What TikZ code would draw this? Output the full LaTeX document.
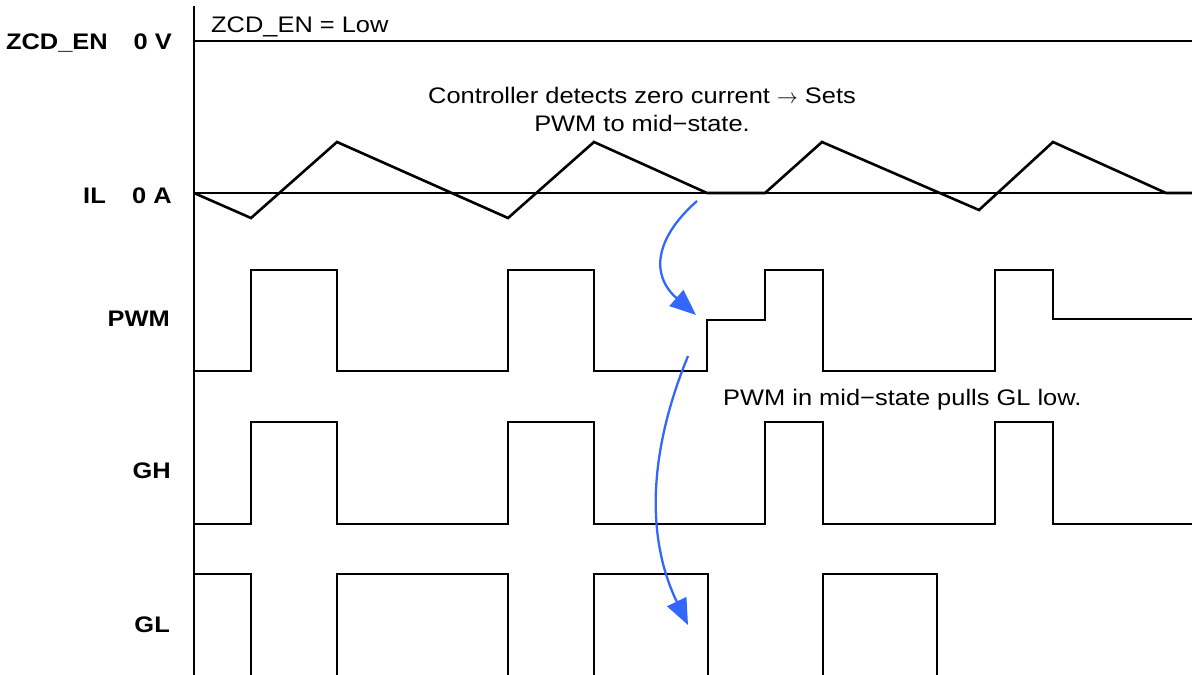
\documentclass[tikz,border=0pt]{standalone}
\usepackage{fontspec}
\setmainfont[FakeStretch=1.13]{Liberation Sans}
\usetikzlibrary{arrows.meta}
\definecolor{annblue}{HTML}{3366FF}
\begin{document}
\begin{tikzpicture}[x=1pt,y=-1pt,
  wave/.style={line width=2.6pt, line join=miter},
  axisline/.style={line width=2.4pt},
  zeroline/.style={line width=2.2pt},
  lbl/.style={font=\fontsize{22.5}{26}\selectfont\bfseries, inner sep=0pt, anchor=base east},
  note/.style={font=\fontsize{22.5}{28}\selectfont, inner sep=0pt},
  ann/.style={annblue, line width=2.3pt, -{Triangle[length=26pt,width=21pt]}}]
\useasboundingbox (0,0) rectangle (1192,675);
% axis
\coordinate (axtop) at (194,6);
\coordinate (axbot) at (194,675);
\draw[axisline] (axtop) -- (axbot);
% ZCD_EN level
\coordinate (zcdA) at (194,41);
\coordinate (zcdB) at (1192,41);
\draw[zeroline] (zcdA) -- (zcdB);
% IL zero line
\coordinate (ilA) at (194,193);
\coordinate (ilB) at (1192,193);
\draw[zeroline] (ilA) -- (ilB);
% IL waveform
\draw[wave] (194,193) -- (251,218) -- (337,142) -- (508,218) -- (594,142) -- (707,193) -- (765,193) -- (822,142) -- (979,210) -- (1053,142) -- (1166,193) -- (1192,193);
% PWM
\draw[wave] (194,371) -- (251,371) -- (251,270) -- (337,270) -- (337,371) -- (508,371) -- (508,270) -- (594,270) -- (594,371) -- (707,371) -- (707,320) -- (765,320) -- (765,270) -- (823,270) -- (823,371) -- (995,371) -- (995,270) -- (1053,270) -- (1053,319) -- (1192,319);
% GH
\draw[wave] (194,524) -- (251,524) -- (251,422) -- (337,422) -- (337,524) -- (508,524) -- (508,422) -- (594,422) -- (594,524) -- (765,524) -- (765,422) -- (823,422) -- (823,524) -- (995,524) -- (995,422) -- (1053,422) -- (1053,524) -- (1192,524);
% GL
\draw[wave] (194,574) -- (251,574) -- (251,676);
\draw[wave] (337,676) -- (337,574) -- (508,574) -- (508,676);
\draw[wave] (594,676) -- (594,574) -- (708,574) -- (708,676);
\draw[wave] (823,676) -- (823,574) -- (937,574) -- (937,676);
% labels
\node[lbl] (zcd) at (108,49) {ZCD\_EN};
\node[lbl] (zcdv) at (172,49) {0 V};
\node[lbl] (il) at (106,203) {IL};
\node[lbl] (ila) at (172,203) {0 A};
\node[lbl] (pwm) at (170,326) {PWM};
\node[lbl] (gh) at (171,478) {GH};
\node[lbl] (gl) at (170,632) {GL};
% notes
\node[note, anchor=base west] (zcdnote) at (211,32) {ZCD\_EN = Low};
\node[note, anchor=base] (ctl1) at (642,103) {Controller detects zero current $\rightarrow$ Sets};
\node[note, anchor=base] (ctl2) at (642,131) {PWM to mid−state.};
\node[note, anchor=base west] (midnote) at (723,405) {PWM in mid−state pulls GL low.};
% annotation arrows
\coordinate (a1s) at (697,201);
\coordinate (a1e) at (696,315);
\draw[ann] (a1s) .. controls (655,238) and (650,275) .. (a1e);
\coordinate (a2s) at (688,356);
\coordinate (a2e) at (688,625);
\draw[ann] (a2s) .. controls (647,456) and (647,540) .. (a2e);
\end{tikzpicture}
\end{document}
